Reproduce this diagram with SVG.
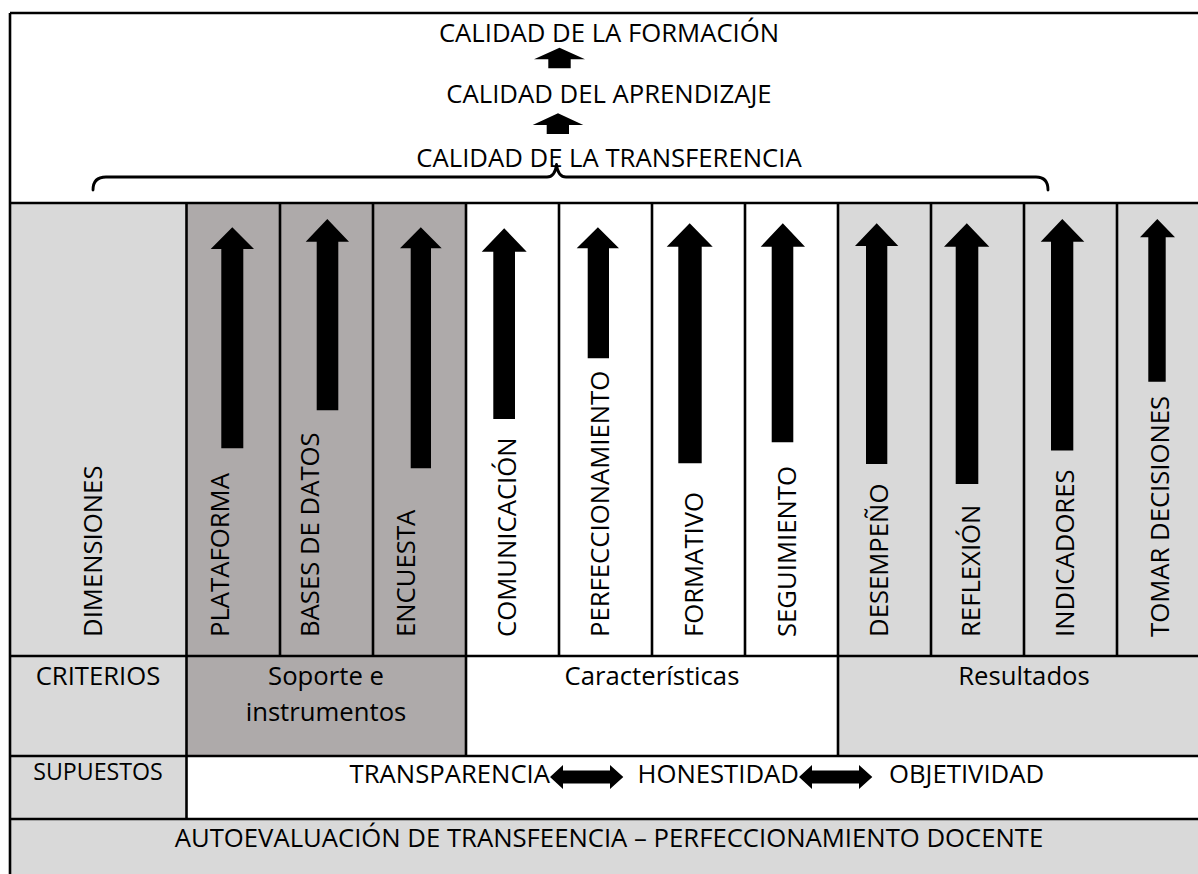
<svg xmlns="http://www.w3.org/2000/svg" width="1198" height="874" viewBox="0 0 1198 874">
<style>
  text { font-family: "Open Sans", "Noto Sans", "Liberation Sans", sans-serif; font-size: 25.7px; fill: #000; }
  .c { text-anchor: middle; }
  .v { text-anchor: start; }
  .small { font-size: 23.2px; }
  .light { fill: #d9d9d9; }
  .dark { fill: #aeaaaa; }
  .white { fill: #ffffff; }
  .grid { stroke: #000; stroke-width: 2.6; fill: none; }
  .blk { fill: #000; }
  .brace { fill: none; stroke: #000; stroke-width: 2.8; stroke-linejoin: round; stroke-linecap: round; }
</style>
<rect x="0" y="0" width="1198" height="874" fill="#ffffff"/>

<!-- cell backgrounds -->
<g id="backgrounds">
  <rect class="white" x="10" y="13" width="1200" height="190"/>
  <rect class="light" x="10" y="203" width="176.5" height="453"/>
  <rect class="dark" x="186.5" y="203" width="279.5" height="453"/>
  <rect class="white" x="466" y="203" width="372" height="453"/>
  <rect class="light" x="838" y="203" width="372" height="453"/>
  <rect class="light" x="10" y="656" width="176.5" height="100"/>
  <rect class="dark" x="186.5" y="656" width="279.5" height="100"/>
  <rect class="white" x="466" y="656" width="372" height="100"/>
  <rect class="light" x="838" y="656" width="372" height="100"/>
  <rect class="light" x="10" y="756" width="176.5" height="63"/>
  <rect class="white" x="186.5" y="756" width="1023.5" height="63"/>
  <rect class="light" x="10" y="819" width="1200" height="60"/>
</g>

<!-- table grid lines -->
<g id="grid" class="grid">
  <line x1="10" y1="13" x2="1210" y2="13"/>
  <line x1="10" y1="13" x2="10" y2="880"/>
  <line x1="10" y1="203" x2="1210" y2="203"/>
  <line x1="10" y1="656" x2="1210" y2="656"/>
  <line x1="10" y1="756" x2="1210" y2="756"/>
  <line x1="10" y1="819" x2="1210" y2="819"/>
  <line x1="186.5" y1="203" x2="186.5" y2="819"/>
  <line x1="280" y1="203" x2="280" y2="656"/>
  <line x1="373" y1="203" x2="373" y2="656"/>
  <line x1="466" y1="203" x2="466" y2="756"/>
  <line x1="559" y1="203" x2="559" y2="656"/>
  <line x1="652" y1="203" x2="652" y2="656"/>
  <line x1="745" y1="203" x2="745" y2="656"/>
  <line x1="838" y1="203" x2="838" y2="756"/>
  <line x1="931" y1="203" x2="931" y2="656"/>
  <line x1="1024" y1="203" x2="1024" y2="656"/>
  <line x1="1117" y1="203" x2="1117" y2="656"/>
</g>

<!-- header -->
<g id="calidad-formacion"><text class="c" x="609" y="41.5">CALIDAD DE LA FORMACIÓN</text></g>
<g id="calidad-aprendizaje"><text class="c" x="609" y="102.5">CALIDAD DEL APRENDIZAJE</text></g>
<g id="calidad-transferencia"><text class="c" x="609" y="166.5">CALIDAD DE LA TRANSFERENCIA</text></g>

<!-- connectors -->
<g id="connectors">
  <path class="blk" d="M559.5,47.7 L585,59.3 L570.7,59.3 L570.7,68.3 L548.3,68.3 L548.3,59.3 L534,59.3 Z"/>
  <path class="blk" d="M558,113.3 L583.3,125 L569,125 L569,134 L546.7,134 L546.7,125 L532.7,125 Z"/>
  <path class="brace" d="M93,190 Q93,177 106,177 L547,177 Q555,177 556.5,164.5 Q558,177 566,177 L1036,177 Q1048,177 1048,190"/>
  <path class="blk" d="M550,777 L563,765 L563,770.5 L610,770.5 L610,765 L623.3,777 L610,789 L610,783.5 L563,783.5 L563,789 Z"/>
  <path class="blk" d="M799,777 L812,765 L812,770.5 L859,770.5 L859,765 L872.3,777 L859,789 L859,783.5 L812,783.5 L812,789 Z"/>
</g>

<!-- vertical block arrows -->
<g id="arrows">
  <path class="blk" d="M232.3,227.3 L254,249 L243.3,249 L243.3,448.3 L221.3,448.3 L221.3,249 L210.7,249 Z"/>
  <path class="blk" d="M327.3,219 L349,241.7 L338.3,241.7 L338.3,410.3 L316.7,410.3 L316.7,241.7 L305.7,241.7 Z"/>
  <path class="blk" d="M420.8,227.3 L441.7,248.3 L431,248.3 L431,468.3 L410.7,468.3 L410.7,248.3 L400,248.3 Z"/>
  <path class="blk" d="M504.2,228.3 L526.7,251.7 L515,251.7 L515,419 L493.3,419 L493.3,251.7 L481.7,251.7 Z"/>
  <path class="blk" d="M597.9,227.3 L619,248.3 L609,248.3 L609,358.3 L587.7,358.3 L587.7,248.3 L576.7,248.3 Z"/>
  <path class="blk" d="M689.7,223.3 L712.7,246.7 L701.7,246.7 L701.7,463.3 L678.3,463.3 L678.3,246.7 L666.7,246.7 Z"/>
  <path class="blk" d="M782.8,223.3 L805,246.7 L793.3,246.7 L793.3,442.3 L771.7,442.3 L771.7,246.7 L760.7,246.7 Z"/>
  <path class="blk" d="M876.7,223.3 L898.3,246 L887.3,246 L887.3,464 L866,464 L866,246 L855,246 Z"/>
  <path class="blk" d="M966.8,223.3 L989.3,246.7 L978.3,246.7 L978.3,484 L955.7,484 L955.7,246.7 L944,246.7 Z"/>
  <path class="blk" d="M1062.3,219 L1084.3,241.7 L1073.3,241.7 L1073.3,450.5 L1051,450.5 L1051,241.7 L1040.7,241.7 Z"/>
  <path class="blk" d="M1157.3,219 L1175,237.3 L1165.7,237.3 L1165.7,381.7 L1148.3,381.7 L1148.3,237.3 L1140,237.3 Z"/>
</g>

<!-- vertical labels -->
<g id="dimensiones"><text class="v" x="102" y="637" transform="rotate(-90 102 637)">DIMENSIONES</text></g>
<g id="plataforma"><text class="v" x="228.5" y="637" transform="rotate(-90 228.5 637)">PLATAFORMA</text></g>
<g id="bases-de-datos"><text class="v" x="318.5" y="637" transform="rotate(-90 318.5 637)">BASES DE DATOS</text></g>
<g id="encuesta"><text class="v" x="415" y="637" transform="rotate(-90 415 637)">ENCUESTA</text></g>
<g id="comunicacion"><text class="v" x="515.5" y="637" transform="rotate(-90 515.5 637)">COMUNICACIÓN</text></g>
<g id="perfeccionamiento"><text class="v" x="609" y="637" transform="rotate(-90 609 637)">PERFECCIONAMIENTO</text></g>
<g id="formativo"><text class="v" x="702.5" y="637" transform="rotate(-90 702.5 637)">FORMATIVO</text></g>
<g id="seguimiento"><text class="v" x="795.5" y="637" transform="rotate(-90 795.5 637)">SEGUIMIENTO</text></g>
<g id="desempeno"><text class="v" x="887.5" y="637" transform="rotate(-90 887.5 637)">DESEMPEÑO</text></g>
<g id="reflexion"><text class="v" x="980" y="637" transform="rotate(-90 980 637)">REFLEXIÓN</text></g>
<g id="indicadores"><text class="v" x="1073.5" y="637" transform="rotate(-90 1073.5 637)">INDICADORES</text></g>
<g id="tomar-decisiones"><text class="v" x="1169" y="637" transform="rotate(-90 1169 637)">TOMAR DECISIONES</text></g>

<!-- criterios row -->
<g id="criterios"><text class="c" x="98" y="685">CRITERIOS</text></g>
<g id="soporte"><text class="c" x="326" y="685">Soporte e</text><text class="c" x="326" y="721">instrumentos</text></g>
<g id="caracteristicas"><text class="c" x="652" y="685">Características</text></g>
<g id="resultados"><text class="c" x="1024" y="685">Resultados</text></g>

<!-- supuestos row -->
<g id="supuestos"><text class="c small" x="98" y="780">SUPUESTOS</text></g>
<g id="transparencia"><text x="550" y="783.3" text-anchor="end">TRANSPARENCIA</text></g>
<g id="honestidad"><text x="637.5" y="783.3">HONESTIDAD</text></g>
<g id="objetividad"><text x="889" y="783.3">OBJETIVIDAD</text></g>

<!-- bottom row -->
<g id="autoevaluacion"><text class="c" x="609" y="846.7">AUTOEVALUACIÓN DE TRANSFEENCIA – PERFECCIONAMIENTO DOCENTE</text></g>
</svg>
